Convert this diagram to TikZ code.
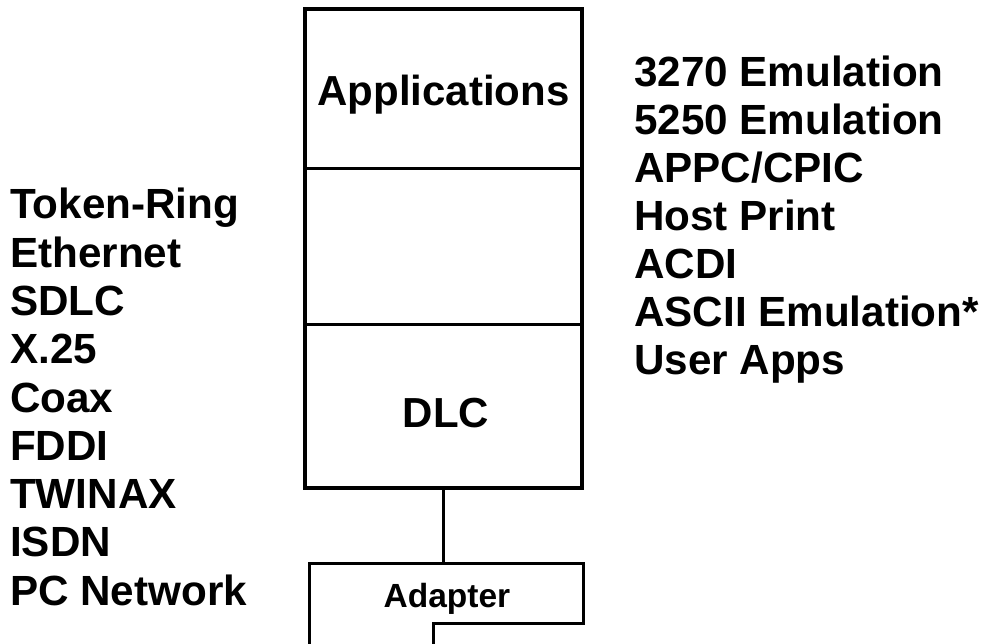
\documentclass[tikz,border=0pt]{standalone}
\usepackage{fontspec}
\setmainfont{Liberation Sans}
\begin{document}
\begin{tikzpicture}[x=1pt,y=-1pt,
  lbl/.style={font=\bfseries\fontsize{42.2}{48}\selectfont, inner sep=0pt, anchor=base west},
  boxlbl/.style={font=\bfseries\fontsize{42}{48}\selectfont, inner sep=0pt, anchor=base},
  layer/.style={draw, line width=3pt, minimum width=277pt, inner sep=0pt, outer sep=0pt, anchor=north west},
  outer/.style={line width=4pt},
  conn/.style={line width=2.5pt},
  adbox/.style={line width=3pt}]
\useasboundingbox (0,0) rectangle (985,644);
% layers
\node[layer, minimum height=160pt] (apps) at (305,9) {};
\node[layer, minimum height=155pt] (mid) at (305,169) {};
\node[layer, minimum height=164pt] (dlc) at (305,324) {};
\draw[outer] (apps.north west) rectangle (dlc.south east);
\node[boxlbl] (applbl) at (443.5,106) {Applications};
\node[boxlbl] (dlclbl) at (446,427) {DLC};
% adapter
\coordinate (adtop) at (dlc.south |- 0,563);
\draw[adbox] (309,644) -- (309,563) -- (583,563) -- (583,623) -- (433,623) -- (433,644);
\node[font=\bfseries\fontsize{33.5}{38}\selectfont, inner sep=0pt, anchor=base] (adapter) at (447,607) {Adapter};
\draw[conn] (dlc.south) -- (adtop);
% left list
\node[lbl] (l1) at (10,219) {Token-Ring};
\node[lbl] (l2) at (10,267.3) {Ethernet};
\node[lbl] (l3) at (10,315.5) {SDLC};
\node[lbl] (l4) at (10,363.8) {X.25};
\node[lbl] (l5) at (10,412) {Coax};
\node[lbl] (l6) at (10,460.3) {FDDI};
\node[lbl] (l7) at (10,508.5) {TWINAX};
\node[lbl] (l8) at (10,556.8) {ISDN};
\node[lbl] (l9) at (10,605) {PC Network};
% right list
\node[lbl] (r1) at (634,86.5) {3270 Emulation};
\node[lbl] (r2) at (634,134.5) {5250 Emulation};
\node[lbl] (r3) at (634,182.5) {APPC/CPIC};
\node[lbl] (r4) at (634,230.5) {Host Print};
\node[lbl] (r5) at (634,278.5) {ACDI};
\node[lbl] (r6) at (634,326.5) {ASCII Emulation*};
\node[lbl] (r7) at (634,374.5) {User Apps};
\end{tikzpicture}
\end{document}
